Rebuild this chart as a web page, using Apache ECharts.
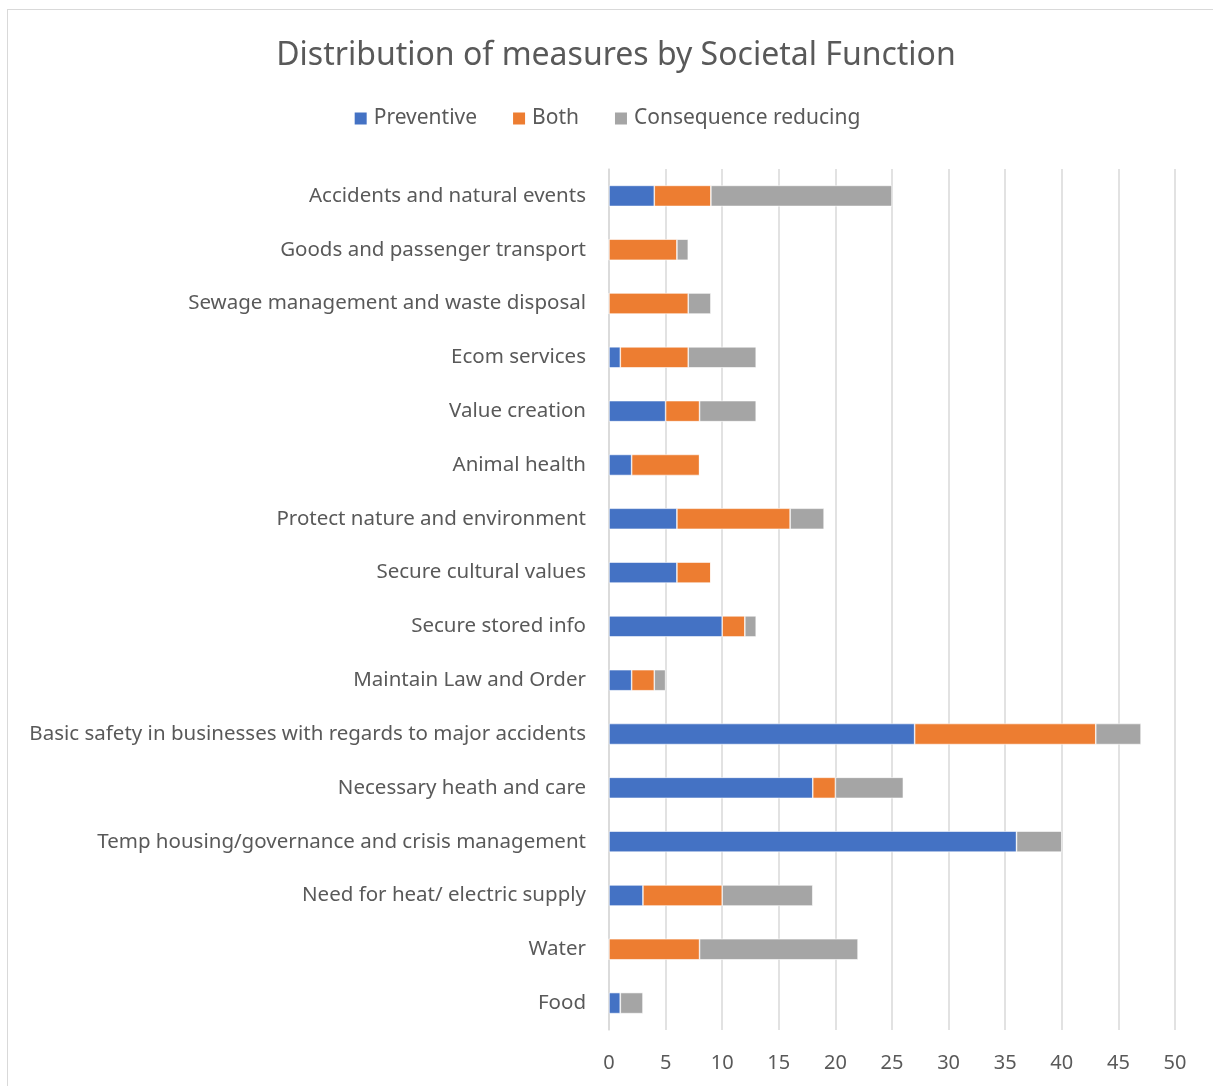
<!DOCTYPE html>
<html>
<head>
<meta charset="utf-8">
<script src="https://cdn.jsdelivr.net/npm/echarts@6/dist/echarts.min.js"></script>
<style>
html,body{margin:0;padding:0;background:#fff;}
#frame{position:absolute;left:7px;top:9px;width:1220px;height:1100px;border:1.5px solid #d9d9d9;}
#chart{position:absolute;left:0;top:0;width:1213px;height:1086px;}
</style>
</head>
<body>
<div id="frame"></div>
<div id="chart"></div>
<script>
// Categories listed bottom to top (category axis order)
const categories = [
  "Food",
  "Water",
  "Need for heat/ electric supply",
  "Temp housing/governance and crisis management",
  "Necessary heath and care",
  "Basic safety in businesses with regards to major accidents",
  "Maintain Law and Order",
  "Secure stored info",
  "Secure cultural values",
  "Protect nature and environment",
  "Animal health",
  "Value creation",
  "Ecom services",
  "Sewage management and waste disposal",
  "Goods and passenger transport",
  "Accidents and natural events"
];
const preventive   = [1, 0, 3, 36, 18, 27, 2, 10, 6, 6, 2, 5, 1, 0, 0, 4];
const both         = [0, 8, 7, 0, 2, 16, 2, 2, 3, 10, 6, 3, 6, 7, 6, 5];
const consequence  = [2, 14, 8, 4, 6, 4, 1, 1, 0, 3, 0, 5, 6, 2, 1, 16];
const seriesNames = ["Preventive", "Both", "Consequence reducing"];
const xTicks = [0, 5, 10, 15, 20, 25, 30, 35, 40, 45, 50];

const FONT = "Noto Sans";
const TXT = "#595959";
const colors = ["#4472C4", "#ED7D31", "#A5A5A5"];
const dataSets = [preventive, both, consequence];

const chart = echarts.init(document.getElementById('chart'), null, {renderer: 'canvas'});
chart.setOption({
  animation: false,
  backgroundColor: 'transparent',
  title: {
    text: "Distribution of measures by Societal Function",
    left: 611, top: 35, textAlign: 'center',
    textStyle: {fontFamily: FONT, fontSize: 32, fontWeight: 'normal', color: TXT}
  },
  legend: {
    data: seriesNames,
    top: 103, left: 'center',
    itemWidth: 14, itemHeight: 14, itemGap: 34,
    icon: 'rect',
    textStyle: {fontFamily: FONT, fontSize: 21, color: TXT, padding: [0,0,0,1]}
  },
  grid: {left: 609, right: 38, top: 169, bottom: 56, containLabel: false},
  xAxis: {
    type: 'value', min: xTicks[0], max: xTicks[xTicks.length-1], interval: 5,
    axisLine: {show: false}, axisTick: {show: false},
    splitLine: {show: true, lineStyle: {color: '#d9d9d9', width: 1.5}},
    axisLabel: {fontFamily: FONT, fontSize: 20, color: TXT, margin: 23}
  },
  yAxis: {
    type: 'category', data: categories,
    axisLine: {show: true, lineStyle: {color: '#d9d9d9', width: 1.5}},
    axisTick: {show: false},
    axisLabel: {fontFamily: FONT, fontSize: 20.5, color: TXT, margin: 23}
  },
  series: seriesNames.map((n, i) => ({
    name: n, type: 'bar', stack: 'total',
    data: dataSets[i],
    barWidth: 21,
    itemStyle: {color: colors[i], borderColor: '#ffffff', borderWidth: 0.6}
  }))
});
</script>
</body>
</html>
